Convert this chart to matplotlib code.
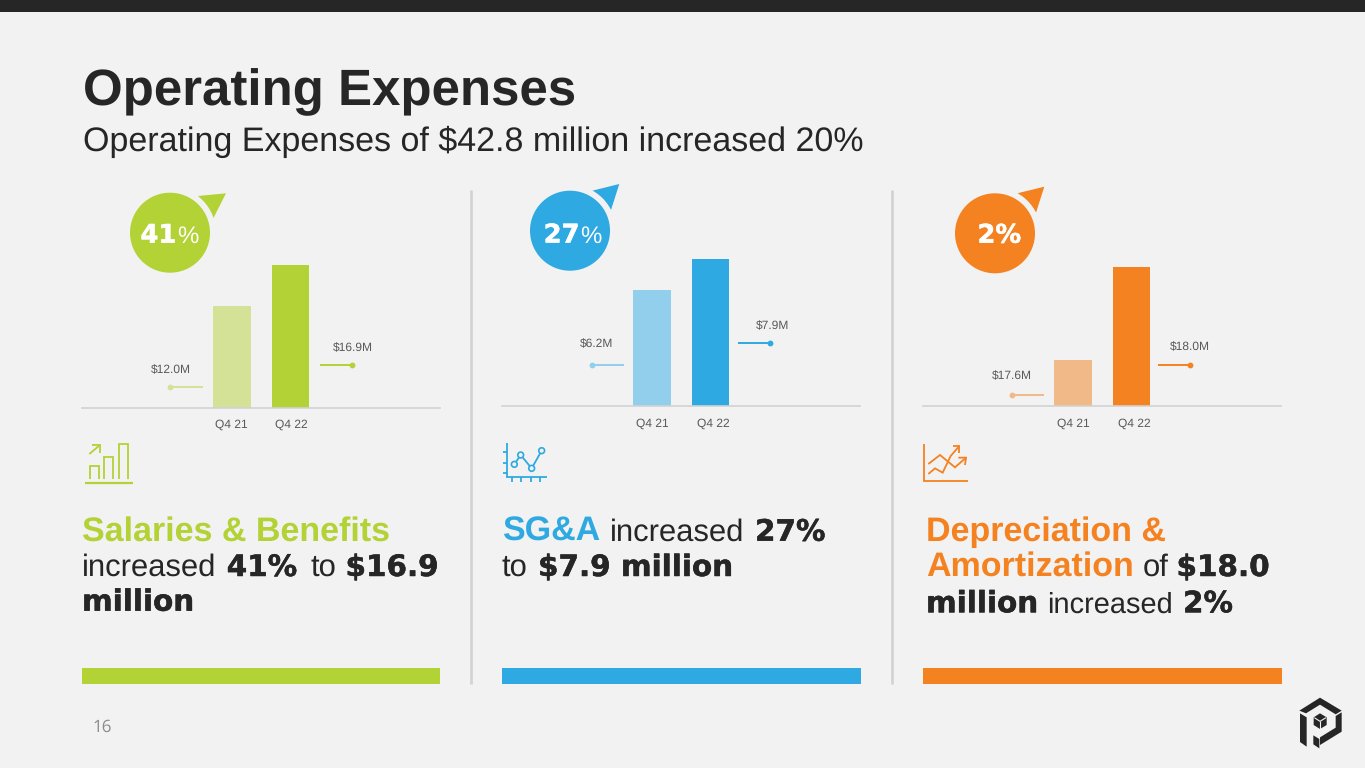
import matplotlib
matplotlib.use('Agg')
import matplotlib.pyplot as plt
import matplotlib.patheffects as pe
from matplotlib.patches import Circle, Polygon, Rectangle

plt.rcParams['text.hinting'] = 'no_hinting'
plt.rcParams['text.hinting_factor'] = 1

# data
periods = ['Q4 21', 'Q4 22']
salaries = [12.0, 16.9]
sga = [6.2, 7.9]
depreciation = [17.6, 18.0]
value_labels = [['$12.0M', '$16.9M'], ['$6.2M', '$7.9M'], ['$17.6M', '$18.0M']]
y_floors = [0, 0, 17.4]  # third chart has a cut axis in the original
pct_labels = [[('41', 'heavy'), ('%', 'reg')], [('27', 'heavy'), ('%', 'reg')], [('2%', 'heavy')]]

BG = '#f2f2f2'
DARK = '#262626'
GREY = '#595959'
RULE = '#d2d2d2'
colors = ['#b2d235', '#2ea9e1', '#f58220']
light_colors = ['#d3e296', '#91cfec', '#f2b988']

W, H = 1365, 768
fig = plt.figure(figsize=(W / 100, H / 100), dpi=100, facecolor=BG)

# overlay in pixel coordinates for the slide furniture
px = fig.add_axes([0, 0, 1, 1], zorder=1)
px.set_xlim(0, W)
px.set_ylim(H, 0)
px.axis('off')

SANS = 'Liberation Sans'
HEAVY = 'DejaVu Sans'
fatten = [pe.withStroke(linewidth=0.35, foreground=DARK)]


def put(x, y, s, size, color=DARK, weight='normal', family=SANS, **kw):
    return px.text(x, y, s, fontsize=size, color=color, fontweight=weight, family=family,
                   va=kw.pop('va', 'baseline'), ha=kw.pop('ha', 'left'), **kw)


def runs(y, parts, reg_size=22):
    # mixed style text on one baseline, x is where each run starts
    for x, s, style, color in parts:
        if style == 'head':
            put(x, y, s, 24.4, color, 'bold')
        elif style == 'heavy':
            put(x, y, s, 21.2, DARK, 'bold', HEAVY, path_effects=fatten)
        else:
            put(x, y, s, reg_size, DARK)


def line(points, color, lw=1.2):
    xs = [p[0] for p in points]
    ys = [p[1] for p in points]
    px.plot(xs, ys, color=color, lw=lw, solid_capstyle='butt', solid_joinstyle='miter')


def icon_pts(ox, oy, pts):
    return [(ox + a / 3, oy + b / 3) for a, b in pts]


# header
px.add_patch(Rectangle((0, 0), W, 12, color=DARK, lw=0))
put(83, 105.5, 'Operating Expenses', 36.5, DARK, 'bold')
put(83, 151, 'Operating Expenses of $42.8 million increased 20%', 24.5, DARK)

# panels
series = [salaries, sga, depreciation]
lefts = [82, 502, 923]
band_widths = [358, 359, 359]
bases = [407.7, 406, 406]
tops = [265, 258.7, 267]
tick_pos = [[-0.01, 1.01], [0.0, 1.04], [0.01, 1.05]]
centers = [(170, 232.7), (570, 230.7), (995, 233.3)]
arrows = [[(198, 196), (226, 193.3), (213.3, 218.3)],
          [(592.3, 190.7), (619.3, 184), (611, 210)],
          [(1017.3, 193.3), (1044.3, 186.7), (1036, 212.7)]]
# leader: x start, x end, y, label x, label y  (left then right)
leaders = [[(170, 203, 386.7, 171, 370.5), (320, 352, 365, 352.5, 348)],
           [(591.7, 624, 365, 597, 344), (738, 770.3, 343, 772.7, 325.8)],
           [(1012, 1044, 394.7, 1012, 376), (1158, 1190, 365, 1190.3, 347.5)]]
pct_x = [140.5, 543.7, 977.5]
pct_base = [242.7, 242.5, 242.7]

for i, vals in enumerate(series):
    ax = fig.add_axes([lefts[i] / W, 1 - bases[i] / H, 358 / W, (bases[i] - tops[i]) / H], zorder=2)
    ax.patch.set_alpha(0)
    ax.bar([0, 1], vals, width=0.64, color=[light_colors[i], colors[i]])
    ax.set_xlim(-2.565, 3.555)
    ax.set_ylim(y_floors[i], max(vals))
    ax.set_yticks([])
    ax.set_xticks(tick_pos[i], periods, fontsize=8.8, color=GREY, family=SANS)
    ax.tick_params(axis='x', length=0, pad=8.5)
    for side in ['top', 'left', 'right']:
        ax.spines[side].set_visible(False)
    ax.spines['bottom'].set_color(RULE)
    ax.spines['bottom'].set_linewidth(1.2)

    # bubble with its pointer
    cx, cy = centers[i]
    px.add_patch(Polygon(arrows[i], closed=True, color=colors[i], lw=0))
    px.add_patch(Circle((cx, cy), 46, color=BG, lw=0))
    px.add_patch(Circle((cx, cy), 40, color=colors[i], lw=0))
    x = pct_x[i]
    r = fig.canvas.get_renderer()
    for s, style in pct_labels[i]:
        if style == 'heavy':
            t = put(x, pct_base[i], s, 18.5, 'white', 'bold', HEAVY,
                    path_effects=[pe.withStroke(linewidth=0.35, foreground='white')])
        else:
            t = put(x, pct_base[i], s, 17.5, 'white')
        x = x + t.get_window_extent(r).width + 0.5

    # value call-outs
    for j in range(2):
        x0, x1, y, lx, ly = leaders[i][j]
        c = light_colors[i] if j == 0 else colors[i]
        line([(x0, y), (x1, y)], c, 1.4)
        dot_x = x0 if j == 0 else x1
        px.plot([dot_x], [y], 'o', color=c, ms=4.2, mew=0)
        put(lx, ly, value_labels[i][j], 8.8, GREY, ha='center', va='center')

    # footer band
    px.add_patch(Rectangle((lefts[i], 668), band_widths[i], 15.5, color=colors[i], lw=0))

# dividers
for x in [471, 891.5]:
    line([(x, 190), (x, 684)], RULE, 1.9)

# body copy
runs(540.7, [(82, 'Salaries & Benefits', 'head', colors[0])])
runs(576, [(82, 'increased', 'reg', DARK), (226.7, '41%', 'heavy', DARK),
           (310.7, 'to', 'reg', DARK), (345.5, '$16.9', 'heavy', DARK)])
runs(610.7, [(82, 'million', 'heavy', DARK)])
runs(540.7, [(502, 'SG&A', 'head', colors[1]), (610, 'increased', 'reg', DARK), (755, '27%', 'heavy', DARK)])
runs(576, [(502, 'to', 'reg', DARK), (538, '$7.9 million', 'heavy', DARK)])
runs(540.7, [(926, 'Depreciation &', 'head', colors[2])])
runs(576, [(926, 'Amortization', 'head', colors[2]), (1143, 'of', 'reg', DARK), (1176.5, '$18.0', 'heavy', DARK)])
runs(612.3, [(926, 'million', 'heavy', DARK), (1046.7, 'increased', 'reg', DARK), (1183, '2%', 'heavy', DARK)],
     reg_size=21)

# icon: bars
c = colors[0]
ox, oy = 80, 180
line(icon_pts(ox, oy, [(15, 908), (158, 908)]), c, 1.6)
for a, b, top in [(30, 57, 857), (73, 98, 830), (116, 143, 793)]:
    line(icon_pts(ox, oy, [(a, 897), (a, top), (b, top), (b, 897)]), c, 1.3)
line(icon_pts(ox, oy, [(28, 822), (60, 795)]), c, 1.3)
line(icon_pts(ox, oy, [(36, 795), (60, 795), (60, 818)]), c, 1.3)

# icon: line chart
c = colors[1]
ox, oy = 500, 180
line(icon_pts(ox, oy, [(20, 790), (20, 892), (140, 892)]), c, 1.3)
for b in [815, 848, 880]:
    line(icon_pts(ox, oy, [(8, b), (20, b)]), c, 1.3)
for a in [35, 63, 92, 121]:
    line(icon_pts(ox, oy, [(a, 892), (a, 905)]), c, 1.3)
node_pts = icon_pts(ox, oy, [(43, 853), (62, 825), (95, 865), (125, 812)])
line(node_pts, c, 1.3)
for p in node_pts:
    px.add_patch(Circle(p, 2.9, facecolor=BG, edgecolor=c, lw=1.2, zorder=3))

# icon: trend arrows
c = colors[2]
ox, oy = 910, 180
line(icon_pts(ox, oy, [(41, 792), (41, 903), (175, 903)]), c, 1.3)
line(icon_pts(ox, oy, [(55, 852), (90, 825), (135, 862), (168, 833)]), c, 1.3)
line(icon_pts(ox, oy, [(145, 833), (168, 833), (165, 855)]), c, 1.3)
line(icon_pts(ox, oy, [(55, 882), (75, 865), (98, 878), (122, 828), (148, 798)]), c, 1.3)
line(icon_pts(ox, oy, [(128, 798), (148, 798), (148, 820)]), c, 1.3)

# page number and logo
put(92, 732, '16', 12, '#8c8c8c', family='Open Sans')
ox, oy = 1270, 680
logo_parts = [
    [(88, 92), (150, 53), (215, 92), (197, 103), (150, 74), (108, 100)],
    [(90, 100), (110, 112), (110, 200), (90, 186)],
    [(197, 108), (215, 97), (215, 155), (150, 195), (150, 172), (197, 143)],
    [(130, 166), (148, 177), (148, 205), (130, 193)],
    [(150, 100), (170, 112), (170, 135), (150, 147), (131, 135), (131, 112)],
]
for part in logo_parts:
    px.add_patch(Polygon(icon_pts(ox, oy, part), closed=True, color=DARK, lw=0))
line(icon_pts(ox, oy, [(133, 113), (150, 124), (168, 113)]), BG, 0.8)
line(icon_pts(ox, oy, [(150, 124), (150, 147)]), BG, 0.8)

fig.savefig('out.png', dpi=100, facecolor=BG)
